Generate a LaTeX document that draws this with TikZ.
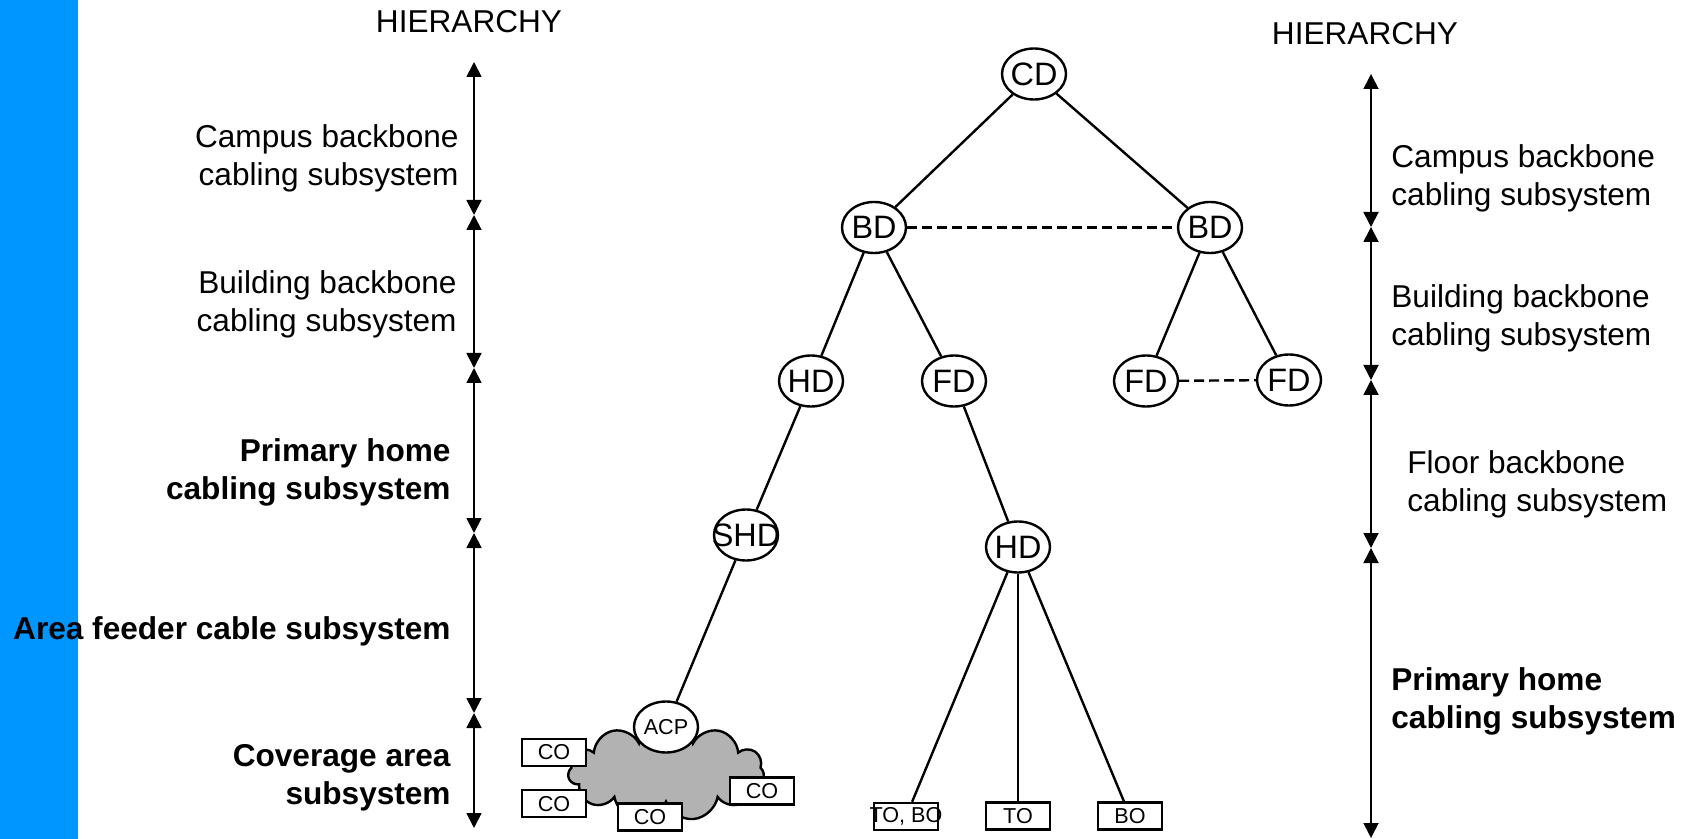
\documentclass[tikz,border=0pt]{standalone}
\usepackage{fontspec}
\setmainfont{Liberation Sans}
\usetikzlibrary{shapes.geometric,shapes.symbols,arrows.meta}
\definecolor{sidebar}{RGB}{0,150,255}
\definecolor{cloudgray}{RGB}{178,178,178}
\begin{document}
\begin{tikzpicture}[x=0.5pt,y=-0.5pt,
  lbl/.style={font=\fontsize{15.8}{19}\selectfont, inner sep=0pt},
  lblb/.style={font=\fontsize{15.8}{19}\selectfont\bfseries, inner sep=0pt},
  hub/.style={draw, ellipse, line width=1.2pt, fill=white,
    minimum width=32pt, minimum height=25.5pt, inner sep=0pt,
    label={[font=\fontsize{16.2}{18}\selectfont, inner sep=0pt]center:#1}},
  hubsmall/.style={draw, ellipse, line width=1.2pt, fill=white,
    minimum width=32pt, minimum height=25.5pt, inner sep=0pt,
    label={[font=\fontsize{10.8}{12}\selectfont, inner sep=0pt]center:#1}},
  port/.style={draw, rectangle, line width=1.2pt, fill=white,
    minimum width=32pt, minimum height=13.5pt, inner sep=0pt,
    label={[font=\fontsize{10.8}{12}\selectfont, inner sep=0pt]center:#1}},
  link/.style={line width=1.2pt},
  peer/.style={line width=1.2pt, dash pattern=on 5pt off 2.5pt},
  span/.style={line width=0.9pt,
    {Triangle[length=7.5pt,width=7.5pt]}-{Triangle[length=7.5pt,width=7.5pt]}},
]
\useasboundingbox (0,0) rectangle (1691,839);
\fill[sidebar] (0,0) rectangle (78,839);

% hierarchy scale, left
\coordinate (l0) at (474,62);
\coordinate (l1) at (474,215);
\coordinate (l2) at (474,368);
\coordinate (l3) at (474,533);
\coordinate (l4) at (474,713);
\coordinate (l5) at (474,828);
\draw[span] (l0) -- (l1);
\draw[span] (l1) -- (l2);
\draw[span] (l2) -- (l3);
\draw[span] (l3) -- (l4);
\draw[span] (l4) -- (l5);

\node[lbl, anchor=base] (hl) at (469,33) {HIERARCHY};
\node[lbl, align=right, anchor=east] (lc) at (459,158) {Campus backbone\\cabling subsystem};
\node[lbl, align=right, anchor=east] (lb) at (457,304) {Building backbone\\cabling subsystem};
\node[lblb, align=right, anchor=east] (lp) at (451,472) {Primary home\\cabling subsystem};
\node[lblb, anchor=base east] (la) at (451,639) {Area feeder cable subsystem};
\node[lblb, align=right, anchor=east] (lv) at (451,778) {Coverage area\\subsystem};

% hierarchy scale, right
\coordinate (r0) at (1371,74);
\coordinate (r1) at (1371,227);
\coordinate (r2) at (1371,380);
\coordinate (r3) at (1371,548);
\coordinate (r4) at (1371,838);
\draw[span] (r0) -- (r1);
\draw[span] (r1) -- (r2);
\draw[span] (r2) -- (r3);
\draw[span] (r3) -- (r4);

\node[lbl, anchor=base] (hr) at (1365,45) {HIERARCHY};
\node[lbl, align=left, anchor=west] (rc) at (1391,178) {Campus backbone\\cabling subsystem};
\node[lbl, align=left, anchor=west] (rb) at (1391,318) {Building backbone\\cabling subsystem};
\node[lbl, align=left, anchor=west] (rf) at (1407,484) {Floor backbone\\cabling subsystem};
\node[lblb, align=left, anchor=west] (rp) at (1391,701) {Primary home\\cabling subsystem};

% coverage area cloud
\node[cloud, draw, fill=cloudgray, line width=1.2pt, cloud puffs=11,
  minimum width=98pt, minimum height=49pt, inner sep=0pt] (cloud) at (666,772) {};

% distributors
\node[hub=CD] (cd) at (1034,74) {};
\node[hub=BD] (bdl) at (874,227.5) {};
\node[hub=BD] (bdr) at (1210,227.5) {};
\node[hub=HD] (hd1) at (811,381) {};
\node[hub=FD] (fd1) at (954,381) {};
\node[hub=FD] (fd2) at (1146,381) {};
\node[hub=FD] (fd3) at (1289,380) {};
\node[hub=SHD] (shd) at (746,535) {};
\node[hub=HD] (hd2) at (1018,547) {};
\node[hubsmall=ACP] (acp) at (666,727) {};

% outlets
\node[port=CO] (co1) at (554,752.5) {};
\node[port=CO] (co2) at (554,803.7) {};
\node[port=CO] (co3) at (650,817) {};
\node[port=CO] (co4) at (762,791) {};
\node[port={TO, BO}] (tobo) at (906,816.5) {};
\node[port=TO] (to) at (1018,816) {};
\node[port=BO] (bo) at (1130,816) {};

% cabling
\draw[link] (cd) -- (bdl);
\draw[link] (cd) -- (bdr);
\draw[link] (bdl) -- (hd1);
\draw[link] (bdl) -- (fd1);
\draw[link] (bdr) -- (fd2);
\draw[link] (bdr) -- (fd3);
\draw[link] (hd1) -- (shd);
\draw[link] (shd) -- (acp);
\draw[link] (fd1) -- (hd2);
\draw[link] (hd2) -- (tobo);
\draw[link] (hd2) -- (to);
\draw[link] (hd2) -- (bo);
\draw[peer] (bdl) -- (bdr);
\draw[peer] (fd2) -- (fd3);
\end{tikzpicture}
\end{document}
